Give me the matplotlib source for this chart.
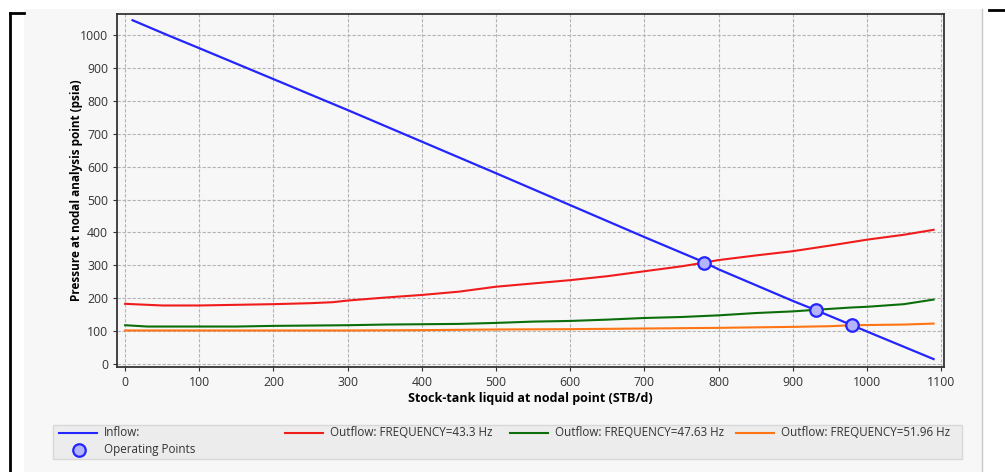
import matplotlib
matplotlib.use("Agg")
import matplotlib.pyplot as plt
from matplotlib.lines import Line2D
from matplotlib.patches import Rectangle

plt.rcParams["font.family"] = ["Open Sans", "DejaVu Sans"]

# Кривая притока (IPR)
inflow_q = [10, 57, 100, 200, 300, 400, 500, 600, 700, 780, 800, 900, 932, 980,
            1000, 1090]
inflow_p = [1045, 1000, 960, 866, 772, 676, 580, 483, 386, 310, 288, 192, 163, 118,
            99, 15]

# Кривые оттока (VLP) для трёх частот
red_q = [0, 50, 100, 150, 200, 250, 280, 300, 350, 400, 450, 500, 550, 600,
         650, 700, 750, 780, 800, 850, 900, 950, 1000, 1050, 1090]
red_p = [183, 178, 178, 180, 182, 185, 188, 193, 202, 210, 220, 235, 245, 255,
         267, 282, 297, 308, 316, 330, 343, 360, 378, 393, 408]

green_q = [0, 30, 100, 150, 200, 300, 350, 400, 450, 500, 550, 600, 650, 700,
           750, 800, 850, 900, 932, 980, 1000, 1050, 1090]
green_p = [118, 114, 114, 114, 116, 118, 120, 121, 122, 125, 129, 131, 135, 140,
           143, 148, 155, 160, 165, 172, 174, 182, 196]

orange_q = [0, 100, 200, 300, 400, 500, 600, 700, 800, 900, 950, 980, 1050, 1090]
orange_p = [102, 102, 102, 102, 103, 105, 106, 108, 110, 113, 115, 118, 120, 123]

# Рабочие точки
op_q = [780, 932, 980]
op_p = [308, 163, 118]

LEGEND_LABELS = [
    "Inflow:",
    "Outflow: FREQUENCY=43.3 Hz",
    "Outflow: FREQUENCY=47.63 Hz",
    "Outflow: FREQUENCY=51.96 Hz",
]

BLUE = "#2424ff"
RED = "#f01c1c"
GREEN = "#0b6e0b"
ORANGE = "#ff7414"
PANEL = "#f7f7f7"
MARKER_FACE = "#b4b4fa"

W, H = 1005, 472
fig = plt.figure(figsize=(W / 100, H / 100), dpi=100)
fig.patch.set_facecolor("white")


def fx(x):
    return x / W


def fy(y):
    return 1 - y / H


# Фон панели и рамки окна
fig.add_artist(Rectangle((fx(24), 0), fx(982) - fx(24), fy(9), transform=fig.transFigure,
                         facecolor=PANEL, edgecolor="none", zorder=0))
fig.add_artist(Line2D([fx(982), fx(982)], [0, fy(9)], transform=fig.transFigure,
                      color="#c8c8c8", lw=1))
fig.add_artist(Line2D([fx(10), fx(10)], [0, fy(13)], transform=fig.transFigure,
                      color="black", lw=2))
fig.add_artist(Line2D([fx(10), fx(24)], [fy(13), fy(13)], transform=fig.transFigure,
                      color="black", lw=2))
fig.add_artist(Line2D([fx(989), 1], [fy(10), fy(10)], transform=fig.transFigure,
                      color="black", lw=2))

ax = fig.add_axes([fx(117), fy(367), fx(944) - fx(117), fy(14) - fy(367)])
ax.set_facecolor(PANEL)

ax.plot(inflow_q, inflow_p, color=BLUE, lw=1.6, zorder=3)
ax.plot(red_q, red_p, color=RED, lw=1.5, zorder=3)
ax.plot(green_q, green_p, color=GREEN, lw=1.5, zorder=3)
ax.plot(orange_q, orange_p, color=ORANGE, lw=1.5, zorder=3)
ax.plot(op_q, op_p, linestyle="none", marker="o", markersize=9,
        markerfacecolor=MARKER_FACE, markeredgecolor=BLUE, markeredgewidth=1.6, zorder=4)

ax.set_xlim(-11, 1104)
ax.set_ylim(-9, 1064)
ax.set_xticks(range(0, 1101, 100))
ax.set_yticks(range(0, 1001, 100))
ax.grid(True, color="#b4b4b4", linestyle=(0, (3, 1.5)), linewidth=0.8)
ax.set_axisbelow(True)
ax.tick_params(labelsize=8.8, colors="#333333", length=3, width=0.8)

for side in ["left", "bottom", "top", "right"]:
    ax.spines[side].set_color("#333333")
    ax.spines[side].set_linewidth(1.3)

ax.set_xlabel("Stock-tank liquid at nodal point (STB/d)", fontsize=9,
              fontweight="bold", labelpad=2)
ax.set_ylabel("Pressure at nodal analysis point (psia)", fontsize=8.5,
              fontweight="bold", labelpad=-2)

# Легенда (собрана вручную, чтобы повторить раскладку)
fig.add_artist(Rectangle((fx(53), fy(459)), fx(962) - fx(53), fy(425) - fy(459),
                         transform=fig.transFigure, facecolor="#ececec",
                         edgecolor="#d8d8d8", lw=1, zorder=1))
legend_colors = [BLUE, RED, GREEN, ORANGE]
line_x = [59, 285, 510, 736]
for x0, color, label in zip(line_x, legend_colors, LEGEND_LABELS):
    fig.add_artist(Line2D([fx(x0), fx(x0 + 38)], [fy(433), fy(433)],
                          transform=fig.transFigure, color=color, lw=1.5, zorder=2))
    fig.text(fx(x0 + 45), fy(433), label, fontsize=8.4, color="#333333",
             va="center", ha="left", zorder=2)

fig.add_artist(Line2D([fx(79)], [fy(450)], transform=fig.transFigure, linestyle="none",
                      marker="o", markersize=9, markerfacecolor=MARKER_FACE,
                      markeredgecolor=BLUE, markeredgewidth=1.6, zorder=2))
fig.text(fx(104), fy(450), "Operating Points", fontsize=8.4, color="#333333",
         va="center", ha="left", zorder=2)

fig.savefig("out.png", dpi=100)
